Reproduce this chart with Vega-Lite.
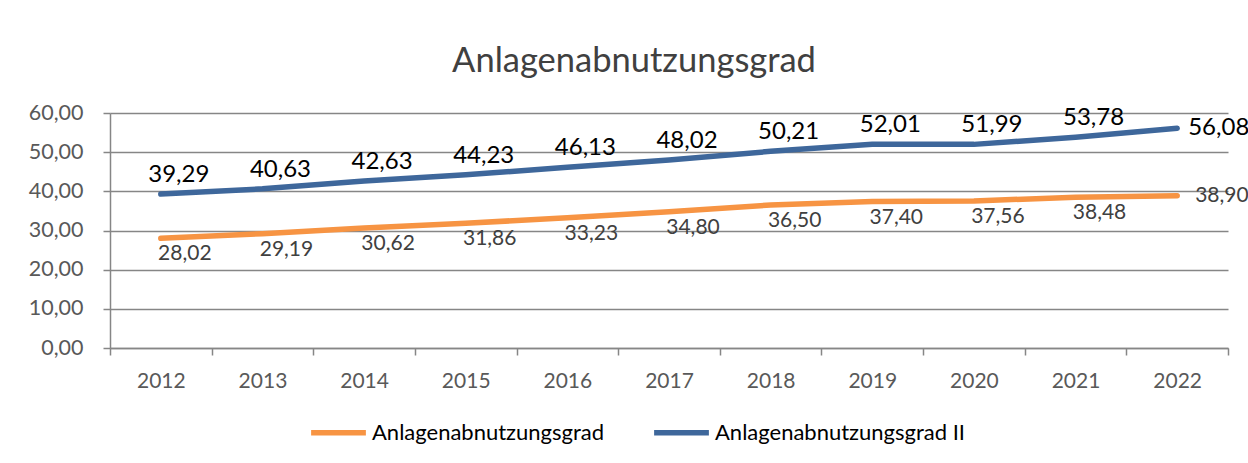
{
  "$schema": "https://vega.github.io/schema/vega-lite/v6.json",
  "width": 1118,
  "height": 235,
  "autosize": {"type": "none"},
  "padding": {"left": 110, "top": 113, "right": 20, "bottom": 115},
  "background": "white",
  "config": {
    "locale": {"number": {"decimal": ",", "thousands": ".", "grouping": [3], "currency": ["", " €"]}},
    "font": "Lato",
    "view": {"stroke": null}
  },
  "title": {
    "text": "Anlagenabnutzungsgrad",
    "fontSize": 34.5,
    "font": "Lato",
    "fontWeight": "normal",
    "color": "#404040",
    "anchor": "middle",
    "dx": -35,
    "offset": 23
  },
  "data": {
    "values": [
      {"year": "2012", "series": "Anlagenabnutzungsgrad", "value": 28.02},
      {"year": "2013", "series": "Anlagenabnutzungsgrad", "value": 29.19},
      {"year": "2014", "series": "Anlagenabnutzungsgrad", "value": 30.62},
      {"year": "2015", "series": "Anlagenabnutzungsgrad", "value": 31.86},
      {"year": "2016", "series": "Anlagenabnutzungsgrad", "value": 33.23},
      {"year": "2017", "series": "Anlagenabnutzungsgrad", "value": 34.80},
      {"year": "2018", "series": "Anlagenabnutzungsgrad", "value": 36.50},
      {"year": "2019", "series": "Anlagenabnutzungsgrad", "value": 37.40},
      {"year": "2020", "series": "Anlagenabnutzungsgrad", "value": 37.56},
      {"year": "2021", "series": "Anlagenabnutzungsgrad", "value": 38.48},
      {"year": "2022", "series": "Anlagenabnutzungsgrad", "value": 38.90},
      {"year": "2012", "series": "Anlagenabnutzungsgrad II", "value": 39.29},
      {"year": "2013", "series": "Anlagenabnutzungsgrad II", "value": 40.63},
      {"year": "2014", "series": "Anlagenabnutzungsgrad II", "value": 42.63},
      {"year": "2015", "series": "Anlagenabnutzungsgrad II", "value": 44.23},
      {"year": "2016", "series": "Anlagenabnutzungsgrad II", "value": 46.13},
      {"year": "2017", "series": "Anlagenabnutzungsgrad II", "value": 48.02},
      {"year": "2018", "series": "Anlagenabnutzungsgrad II", "value": 50.21},
      {"year": "2019", "series": "Anlagenabnutzungsgrad II", "value": 52.01},
      {"year": "2020", "series": "Anlagenabnutzungsgrad II", "value": 51.99},
      {"year": "2021", "series": "Anlagenabnutzungsgrad II", "value": 53.78},
      {"year": "2022", "series": "Anlagenabnutzungsgrad II", "value": 56.08}
    ]
  },
  "encoding": {
    "x": {
      "field": "year",
      "type": "ordinal",
      "bandPosition": 0.5,
      "scale": {"type": "band", "paddingInner": 0, "paddingOuter": 0},
      "axis": {
        "title": null,
        "labelAngle": 0,
        "labelFontSize": 21,
        "labelColor": "#595959",
        "labelPadding": 15,
        "tickBand": "extent",
        "tickSize": 7,
        "tickColor": "#868686",
        "tickWidth": 1.5,
        "domainColor": "#868686",
        "domainWidth": 1.5,
        "grid": false
      }
    },
    "y": {
      "field": "value",
      "type": "quantitative",
      "scale": {"domain": [0, 60], "nice": false},
      "axis": {
        "title": null,
        "values": [0, 10, 20, 30, 40, 50, 60],
        "format": ".2f",
        "labelFontSize": 21.5,
        "labelColor": "#595959",
        "labelPadding": 20,
        "tickSize": 7,
        "tickColor": "#868686",
        "tickWidth": 1.5,
        "domainColor": "#868686",
        "domainWidth": 1.5,
        "gridColor": "#868686",
        "gridWidth": 1.5
      }
    }
  },
  "layer": [
    {
      "mark": {"type": "line", "strokeWidth": 5.5, "strokeCap": "round", "strokeJoin": "round"},
      "encoding": {
        "color": {
          "field": "series",
          "type": "nominal",
          "scale": {"domain": ["Anlagenabnutzungsgrad", "Anlagenabnutzungsgrad II"], "range": ["#F79443", "#3E679B"]},
          "legend": {
            "title": null,
            "orient": "none",
            "legendX": 198,
            "legendY": 289,
            "direction": "horizontal",
            "symbolType": "stroke",
            "symbolSize": 3000,
            "symbolStrokeWidth": 5.5,
            "labelFontSize": 22,
            "labelLimit": 0,
            "labelColor": "#000000",
            "labelOffset": 3,
            "columnPadding": 39,
            "padding": 0
          }
        }
      }
    },
    {
      "transform": [{"filter": "datum.series == 'Anlagenabnutzungsgrad II' && datum.year != '2022'"}],
      "mark": {"type": "text", "fontSize": 24, "color": "#000000", "dx": 18, "dy": -19, "baseline": "middle"},
      "encoding": {"text": {"field": "value", "type": "quantitative", "format": ".2f"}}
    },
    {
      "transform": [{"filter": "datum.series == 'Anlagenabnutzungsgrad' && datum.year != '2022'"}],
      "mark": {"type": "text", "fontSize": 21, "color": "#404040", "dx": 24, "dy": 16, "baseline": "middle"},
      "encoding": {"text": {"field": "value", "type": "quantitative", "format": ".2f"}}
    },
    {
      "transform": [{"filter": "datum.series == 'Anlagenabnutzungsgrad II' && datum.year == '2022'"}],
      "mark": {"type": "text", "fontSize": 24, "color": "#000000", "dx": 11, "dy": 0, "align": "left", "baseline": "middle"},
      "encoding": {"text": {"field": "value", "type": "quantitative", "format": ".2f"}}
    },
    {
      "transform": [{"filter": "datum.series == 'Anlagenabnutzungsgrad' && datum.year == '2022'"}],
      "mark": {"type": "text", "fontSize": 21, "color": "#404040", "dx": 18, "dy": 0, "align": "left", "baseline": "middle"},
      "encoding": {"text": {"field": "value", "type": "quantitative", "format": ".2f"}}
    }
  ]
}
